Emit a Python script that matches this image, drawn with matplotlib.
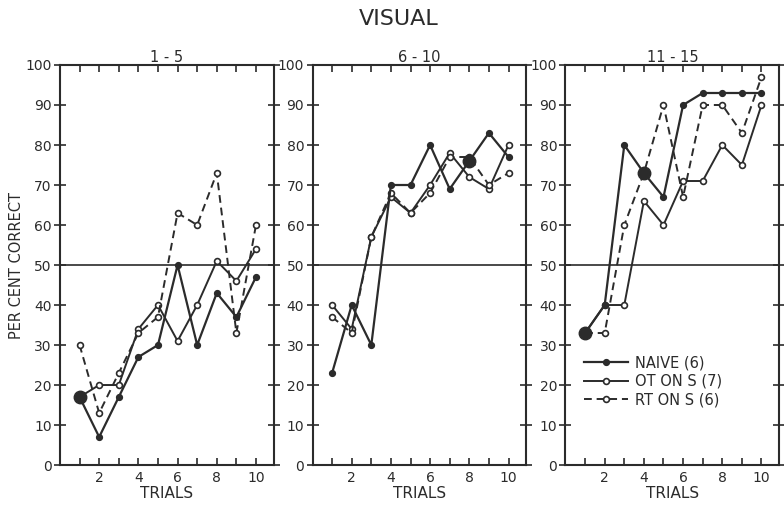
import numpy as np
import matplotlib
matplotlib.use("Agg")
import matplotlib.pyplot as plt
from matplotlib.lines import Line2D

# ── Data (per cent correct, trials 1-10) ─────────────────────────────────────
trials = np.arange(1, 11)
panel_titles = ["1 - 5", "6 - 10", "11 - 15"]

naive = [
    [17, 7, 17, 27, 30, 50, 30, 43, 37, 47],
    [23, 40, 30, 70, 70, 80, 69, 76, 83, 77],
    [33, 40, 80, 73, 67, 90, 93, 93, 93, 93],
]
ot_on_s = [
    [17, 20, 20, 34, 40, 31, 40, 51, 46, 54],
    [40, 34, 57, 67, 63, 70, 78, 72, 69, 80],
    [33, 40, 40, 66, 60, 71, 71, 80, 75, 90],
]
rt_on_s = [
    [30, 13, 23, 33, 37, 63, 60, 73, 33, 60],
    [37, 33, 57, 68, 63, 68, 77, 77, 70, 73],
    [33, 33, 60, 73, 90, 67, 90, 90, 83, 97],
]
# trials where curves coincide (drawn as a large dot)
big_dots = [[1], [8], [1, 4]]

labels = ["NAIVE (6)", "OT ON S (7)", "RT ON S (6)"]

INK = "#2b2b2b"

plt.rcParams["font.family"] = "DejaVu Sans"

fig = plt.figure(figsize=(7.84, 5.07), dpi=100, facecolor="white")

lefts = [0.0765, 0.3986, 0.7213]
width = 0.2725
bottom, height = 0.0828, 0.789

for i in range(3):
    ax = fig.add_axes([lefts[i], bottom, width, height])
    ax.axhline(50, color=INK, lw=1.2, zorder=1)

    ax.plot(trials, naive[i], "-", color=INK, lw=1.6, marker="o",
            ms=4.2, mfc=INK, mec=INK, zorder=4)
    ax.plot(trials, ot_on_s[i], "-", color=INK, lw=1.4, marker="o",
            ms=4.2, mfc="white", mec=INK, mew=1.2, zorder=3)
    ax.plot(trials, rt_on_s[i], "--", color=INK, lw=1.4, marker="o",
            ms=4.2, mfc="white", mec=INK, mew=1.2, dashes=(4, 2.5), zorder=3)

    bx = list(big_dots[i])
    by = [naive[i][t - 1] for t in bx]
    ax.plot(bx, by, "o", ms=9, color=INK, zorder=5, ls="none")

    ax.set_xlim(0, 10.9)
    ax.set_ylim(0, 100)
    ax.set_xticks(trials)
    ax.set_xticklabels([str(t) if t % 2 == 0 else "" for t in trials])
    ax.set_yticks(np.arange(0, 101, 10))
    ax.tick_params(axis="y", which="both", left=True, right=True,
                   direction="in", length=5, width=1.2, labelsize=10,
                   pad=2, colors=INK)
    ax.tick_params(axis="y", which="both", left=True, direction="inout",
                   length=8)
    ax.tick_params(axis="x", which="both", bottom=True, top=True,
                   direction="in", length=5, width=1.2, labelsize=10,
                   pad=4, colors=INK)
    for s in ax.spines.values():
        s.set_linewidth(1.5)
        s.set_color(INK)

    ax.set_title(panel_titles[i], fontsize=10.5, pad=2, color=INK)
    ax.set_xlabel("TRIALS", fontsize=11, labelpad=1, color=INK)
    if i == 0:
        ax.set_ylabel("PER CENT CORRECT", fontsize=10.5, labelpad=1,
                      color=INK)

    if i == 2:
        handles = [
            Line2D([], [], color=INK, lw=1.6, marker="o", ms=4.2, mfc=INK),
            Line2D([], [], color=INK, lw=1.4, marker="o", ms=4.2,
                   mfc="white", mew=1.2),
            Line2D([], [], color=INK, lw=1.4, ls="--", dashes=(4, 2.5),
                   marker="o", ms=4.2, mfc="white", mew=1.2),
        ]
        leg = ax.legend(handles, labels, loc="upper left",
                        bbox_to_anchor=(0.04, 0.30), frameon=False,
                        fontsize=10.5, handlelength=3.0, handletextpad=0.5,
                        labelspacing=0.25, borderpad=0.2)
        for t in leg.get_texts():
            t.set_color(INK)

fig.text(0.508, 0.962, "VISUAL", ha="center", va="center",
         fontsize=16, color=INK)

fig.savefig("out.png", dpi=100, facecolor="white")
